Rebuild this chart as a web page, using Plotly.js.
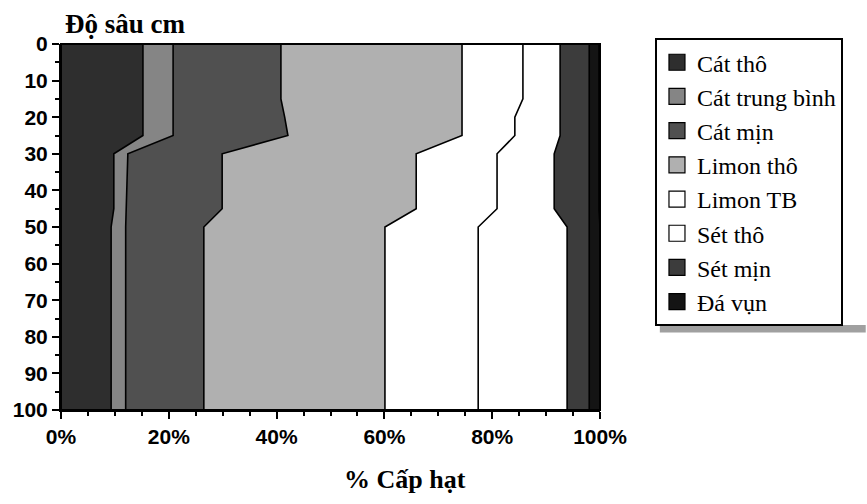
<!DOCTYPE html>
<html>
<head>
<meta charset="utf-8">
<script src="https://cdn.plot.ly/plotly-3.0.1.min.js"></script>
<style>html,body{margin:0;padding:0;background:#fff;}#chart{width:867px;height:504px;}</style>
</head>
<body>
<div id="chart"></div>
<script>
// Depth (cm)
const depths = [0, 15, 20, 25, 30, 45, 50, 100];
// Particle-size fractions (%) at each depth
const catTho      = [15.2, 15.2, 15.2, 15.2, 9.8, 9.8, 9.3, 9.3];
const catTrungBinh= [5.6, 5.6, 5.6, 5.6, 2.6, 2.4, 2.7, 2.7];
const catMin      = [20.0, 20.0, 20.7, 21.3, 17.5, 17.7, 14.5, 14.5];
const limonTho    = [33.6, 33.6, 32.9, 32.3, 36.0, 36.0, 33.6, 33.6];
const limonTB     = [11.3, 11.3, 9.8, 9.8, 15.0, 15.0, 17.3, 17.3];
const setTho      = [6.9, 6.9, 8.4, 8.4, 10.6, 10.6, 16.5, 16.5];
const setMin      = [5.4, 5.4, 5.4, 5.4, 6.5, 6.5, 4.1, 4.1];
const daVun       = [1.8, 1.8, 1.8, 1.8, 1.8, 1.8, 2.0, 2.0];

const names  = ["Cát thô","Cát trung bình","Cát mịn","Limon thô","Limon TB","Sét thô","Sét mịn","Đá vụn"];
const series = [catTho, catTrungBinh, catMin, limonTho, limonTB, setTho, setMin, daVun];
const colors = ["#2e2e2e","#858585","#505050","#b0b0b0","#ffffff","#ffffff","#3c3c3c","#141414"];

const xTickVals = [0, 20, 40, 60, 80, 100];
const xTickText = ["0%", "20%", "40%", "60%", "80%", "100%"];

const areaTraces = series.map((vals, i) => ({
  type: "scatter",
  mode: "lines",
  name: names[i],
  x: vals,
  y: depths,
  orientation: "h",
  stackgroup: "one",
  fillcolor: colors[i],
  line: {color: "#000", width: 1.6, shape: "linear"},
  showlegend: false,
  hoverinfo: "skip"
}));

// legend-only entries (square swatches)
const legendTraces = names.map((n, i) => ({
  type: "scatter",
  mode: "markers",
  name: n,
  x: [null],
  y: [null],
  marker: {symbol: "square", size: 16, color: colors[i], line: {color: "#000", width: 1.2}},
  showlegend: true,
  hoverinfo: "skip"
}));

const layout = {
  width: 867, height: 504,
  margin: {l: 61, r: 267, t: 44, b: 94},
  paper_bgcolor: "#fff", plot_bgcolor: "#fff",
  showlegend: true,
  legend: {
    x: 1.102, y: 1.016, xanchor: "left", yanchor: "top",
    bordercolor: "#000", borderwidth: 2, bgcolor: "#fff",
    font: {family: "Liberation Serif, serif", size: 24, color: "#000"},
    itemwidth: 30, traceorder: "normal", maxheight: 1000,
    entrywidth: 190, entrywidthmode: "pixels"
  },
  xaxis: {
    range: [0, 100], tickmode: "array", tickvals: xTickVals, ticktext: xTickText,
    ticks: "outside", ticklen: 7, tickwidth: 2, tickcolor: "#000",
    minor: {tickmode: "linear", dtick: 5, ticks: "outside", ticklen: 4, tickwidth: 2, tickcolor: "#000"},
    showline: true, linecolor: "#000", linewidth: 2, mirror: false,
    showgrid: false, zeroline: false,
    tickfont: {family: "Liberation Sans, Arial, sans-serif", size: 21, color: "#000", weight: "bold"}
  },
  yaxis: {
    range: [100, 0], dtick: 10,
    ticks: "outside", ticklen: 7, tickwidth: 2, tickcolor: "#000",
    minor: {dtick: 5, ticks: "outside", ticklen: 4, tickwidth: 2, tickcolor: "#000"},
    showline: true, linecolor: "#000", linewidth: 2,
    showgrid: false, zeroline: false,
    tickfont: {family: "Liberation Sans, Arial, sans-serif", size: 21, color: "#000", weight: "bold"}
  },
  annotations: [
    {text: "Độ sâu cm", xref: "paper", yref: "paper", x: 0.003, y: 1.008,
     xanchor: "left", yanchor: "bottom", showarrow: false,
     font: {family: "Liberation Serif, serif", size: 27, color: "#000", weight: "bold"}},
    {text: "% Cấp hạt", xref: "paper", yref: "paper", x: 0.638, y: -0.191,
     xanchor: "center", yanchor: "middle", showarrow: false,
     font: {family: "Liberation Serif, serif", size: 26, color: "#000", weight: "bold"}}
  ],
  shapes: [
    {type: "rect", xref: "paper", yref: "paper", x0: 0, x1: 1, y0: 0, y1: 1,
     line: {color: "#000", width: 2}, fillcolor: "rgba(0,0,0,0)", layer: "above"},
    {type: "rect", xref: "paper", yref: "paper", x0: 1.111, x1: 1.493, y0: 0.212, y1: 0.232,
     line: {width: 0}, fillcolor: "#a0a0a0", layer: "below"}
  ]
};

Plotly.newPlot("chart", areaTraces.concat(legendTraces), layout, {staticPlot: true});
</script>
</body>
</html>
